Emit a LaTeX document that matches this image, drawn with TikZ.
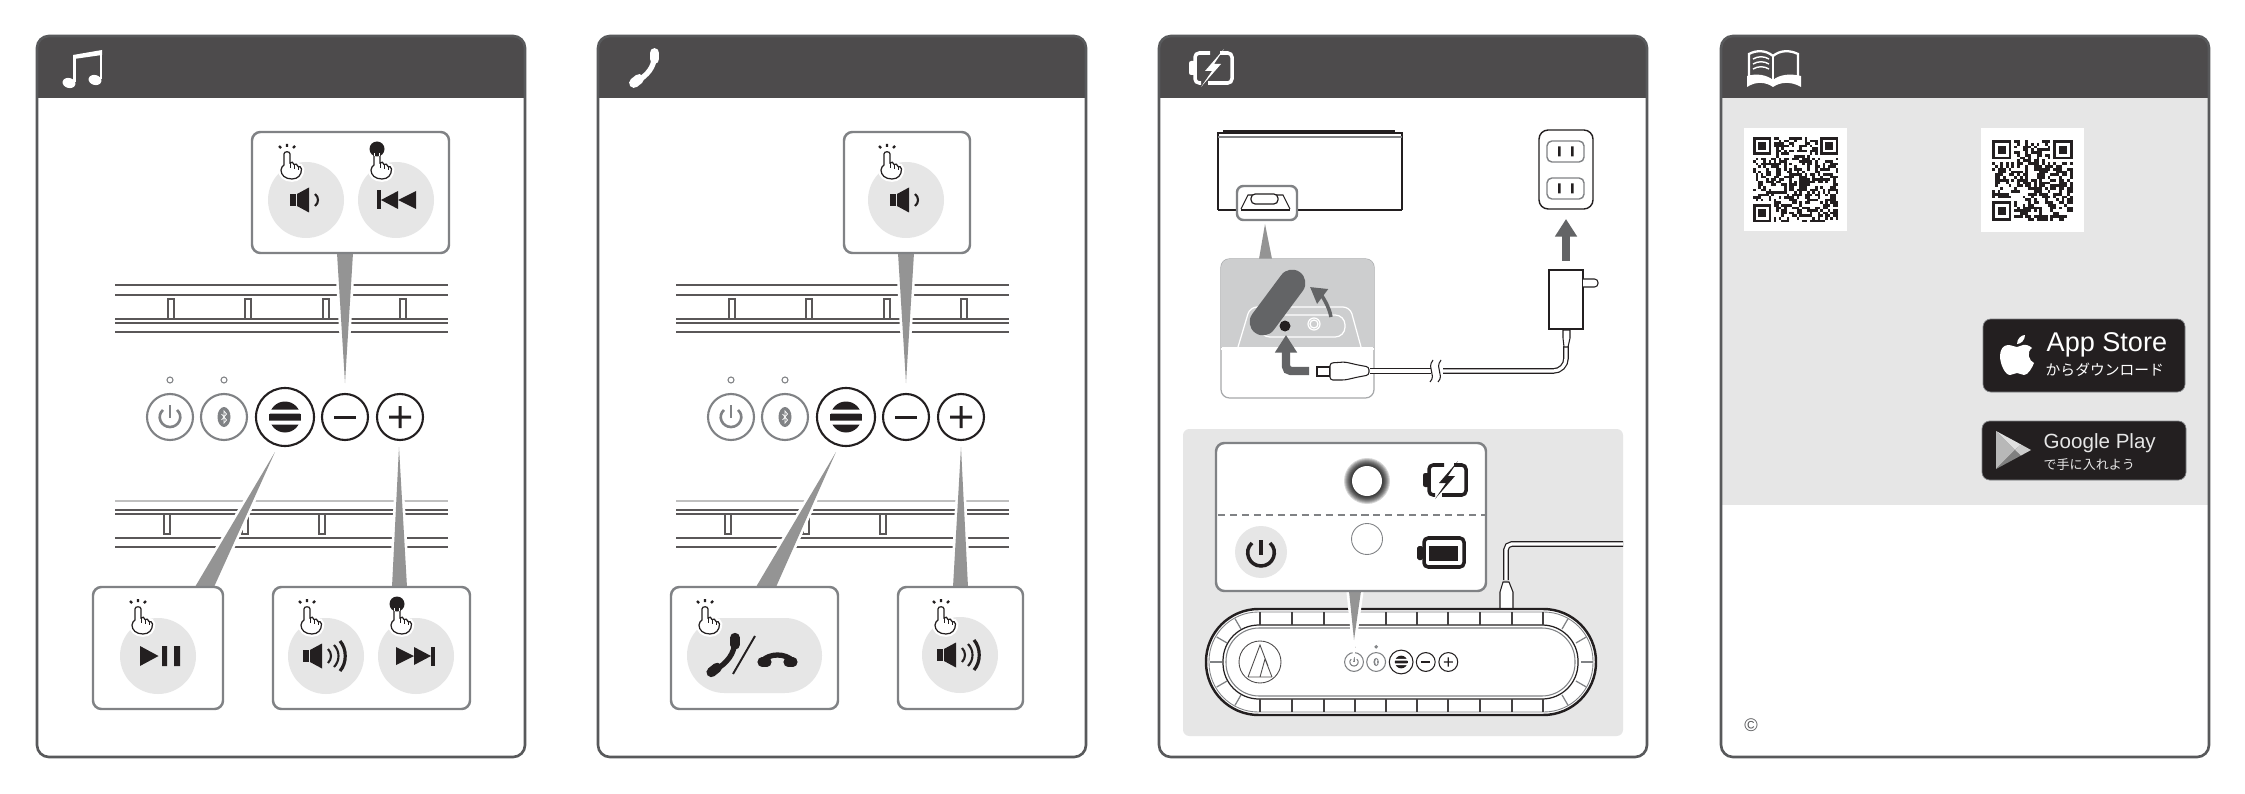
\documentclass[tikz,border=0pt]{standalone}
\usepackage{fontspec}
\setmainfont{Liberation Sans}
\newfontfamily\cjkfont{Noto Sans CJK JP}
\usetikzlibrary{arrows.meta}
\definecolor{headdark}{HTML}{4D4B4C}
\definecolor{framegray}{HTML}{58595B}
\definecolor{softgray}{HTML}{E6E6E6}
\definecolor{tailfill}{HTML}{949494}
\definecolor{boxline}{HTML}{808285}
\definecolor{iconink}{HTML}{231F20}
\definecolor{flapgray}{HTML}{636466}
\definecolor{portgray}{HTML}{CDCECF}
\tikzset{
  railline/.style={draw=iconink!75,line width=.3pt},
  btnline/.style={line width=.6pt},
  btnmark/.style={line width=.75pt},
  callbox/.style={draw=boxline,line width=.7pt,fill=white,rounded corners=2.4pt},
  calltail/.style={fill=tailfill,preaction={draw=white,line width=1.5pt}},
  softdisc/.style={fill=softgray},
  wirepair/.style={draw=iconink,line width=.35pt,double=white,double distance=.9pt},
  fatarrow/.style={draw=flapgray,line width=2.2pt,-{Triangle[width=6pt,length=5pt]}},
  badge/.style={fill=iconink,draw=boxline,line width=.2pt,rounded corners=2.2pt},
  pics/taphand/.style={code={
    \draw[iconink,line width=.65pt] (-8,-6)--(-6,-4) (0,-8)--(0,-5) (8,-6)--(6,-4);
    \draw[iconink,fill=white,line width=.35pt,preaction={draw=white,line width=1.6pt}]
      (-3,2) .. controls (-3,-1) and (3,-1) .. (3,2) -- (3,11) .. controls (4,9.5) and (7,10) .. (7,12.5)
      .. controls (8,11.5) and (11,12) .. (11,14.5) .. controls (12,14) and (14.5,15) .. (14.5,17)
      .. controls (14.5,23) and (11,27) .. (5,27) .. controls (-2,27) and (-6,23) .. (-6,18)
      .. controls (-6,15) and (-4,14) .. (-3,13) -- cycle;
    \draw[iconink,line width=.25pt] (3,11)--(3,16) (7,12.5)--(7,17) (11,14.5)--(11,18);
  }},
  pics/holdhand/.style={code={
    \draw[iconink,fill=white,line width=.35pt,preaction={draw=white,line width=1.6pt}]
      (-3,2) .. controls (-3,-1) and (3,-1) .. (3,2) -- (3,11) .. controls (4,9.5) and (7,10) .. (7,12.5)
      .. controls (8,11.5) and (11,12) .. (11,14.5) .. controls (12,14) and (14.5,15) .. (14.5,17)
      .. controls (14.5,23) and (11,27) .. (5,27) .. controls (-2,27) and (-6,23) .. (-6,18)
      .. controls (-6,15) and (-4,14) .. (-3,13) -- cycle;
    \draw[iconink,line width=.25pt] (3,11)--(3,16) (7,12.5)--(7,17) (11,14.5)--(11,18);
    \fill[iconink] (0,-3) circle (7.5);
    \draw[white,line width=.25pt] (-2.2,4) -- (-2.2,1) (2.2,4) -- (2.2,1);
  }},
  pics/speakerlow/.style={code={
    \fill[iconink] (-16,-6) rectangle (-10,6);
    \fill[iconink] (-9,-6) -- (3,-12.5) -- (3,12.5) -- (-9,6) -- cycle;
    \draw[iconink,line width=.6pt] (9,-6) .. controls (13,-3) and (13,3) .. (9,6);
  }},
  pics/speakerhigh/.style={code={
    \fill[iconink] (-23,-6) rectangle (-17,6);
    \fill[iconink] (-16,-6) -- (-4,-12.5) -- (-4,12.5) -- (-16,6) -- cycle;
    \draw[iconink,line width=.6pt] (2,-7) .. controls (6,-3) and (6,3) .. (2,7);
    \draw[iconink,line width=.6pt] (8,-11) .. controls (14,-5) and (14,5) .. (8,11);
    \draw[iconink,line width=.9pt] (14,-15) .. controls (21,-7) and (21,7) .. (14,15);
  }},
  pics/skiptrack/.style={code={
    \fill[iconink] (-19,-9.5) rectangle (-15,9.5);
    \fill[iconink] (-15,0) -- (2,-9) -- (2,9) -- cycle;
    \fill[iconink] (2,0) -- (20,-9) -- (20,9) -- cycle;
  }},
  pics/chargeicon/.style={code={
    \draw[#1,line width=1pt,rounded corners=1.2pt] (-1,-15) -- (-16,-15) -- (-16,15) -- (-10,15);
    \draw[#1,line width=1pt,rounded corners=1.2pt] (9,-15) -- (21,-15) -- (21,15) -- (-3,15);
    \fill[#1,rounded corners=.6pt] (-22,-7) rectangle (-15,7);
    \fill[#1] (13,-19) -- (-6,3) -- (1,3) -- (-10,19) -- (10,-4) -- (3,-4) -- cycle;
  }},
  pics/handset/.style={code={
    \draw[#1,line width=1.5pt] (9,-12) .. controls (10,-2) and (2,8) .. (-8,13);
    \draw[#1,line width=2.8pt,line cap=round] (9.5,-15) -- (9.5,-9);
    \draw[#1,line width=2.8pt,line cap=round] (-11,15) -- (-6,11);
  }},
  pics/btnrow/.style={code={
    \draw[boxline,fill=white,line width=.3pt] (0,-37) circle (3) (54,-37) circle (3);
    \draw[boxline,fill=white,btnline] (0,0) circle (23) (54,0) circle (23);
    \draw[iconink,fill=white,btnline] (115,0) circle (29) (175,0) circle (23) (230,0) circle (23);
    \draw[boxline,btnmark] (-7,-7) .. controls (-14,-1) and (-9,10) .. (0,10) .. controls (9,10) and (14,-1) .. (7,-7);
    \draw[boxline,btnmark] (0,-12) -- (0,1);
    \fill[boxline] (54,0) ellipse (6.5 and 10);
    \draw[white,line width=.2pt] (51.5,-3) -- (56.5,3) -- (54,6) -- (54,-6) -- (56.5,-3) -- (51.5,3);
    \fill[iconink] (115,0) circle (15.5);
    \fill[iconink] (99,-3.5) rectangle (131,3.5);
    \fill[white] (98,-7.5) rectangle (132,-3.5) (98,3.5) rectangle (132,7.5);
    \fill[iconink] (164,-1.5) rectangle (186,1.5);
    \fill[iconink] (219,-1.5) rectangle (241,1.5) (228.5,-11) rectangle (231.5,11);
  }},
}
\newcommand\qrcode[5]{% left, top, modules, cell, margin
  \fill[white] (#1-#5,#2-#5) rectangle ({#1+#3*#4+#5},{#2+#3*#4+#5});
  \pgfmathtruncatemacro\qrlast{#3-1}
  \foreach \i in {0,...,\qrlast}
    \foreach \j in {0,...,\qrlast} {
      \pgfmathtruncatemacro\qron{rnd>0.52 ? 1 : 0}
      \ifnum\qron=1 \fill[iconink] ({#1+\i*#4},{#2+\j*#4}) rectangle +(#4,#4); \fi
    }
  \foreach \qa/\qb in {0/0,1/0,0/1} {
    \pgfmathsetmacro\qx{#1+\qa*(#3-7)*#4}
    \pgfmathsetmacro\qy{#2+\qb*(#3-7)*#4}
    \fill[white] ({\qx-#4*\qa},{\qy-#4*\qb}) rectangle +(8*#4,8*#4);
    \fill[iconink] (\qx,\qy) rectangle +(7*#4,7*#4);
    \fill[white] ({\qx+#4},{\qy+#4}) rectangle +(5*#4,5*#4);
    \fill[iconink] ({\qx+2*#4},{\qy+2*#4}) rectangle +(3*#4,3*#4);
  }
}
\begin{document}
\begin{tikzpicture}[x=0.01cm,y=-0.01cm]
    \useasboundingbox (0,0) rectangle (2245,794);

    % four panels
    \foreach \dx in {0,561,1122,1684} {
      \begin{scope}[shift={(\dx,0)}]
        \fill[white,rounded corners=3.4pt] (37,36) rectangle (525,757);
        \begin{scope}
          \clip[rounded corners=3.4pt] (37,36) rectangle (525,757);
          \fill[headdark] (37,36) rectangle (525,98);
        \end{scope}
      \end{scope}
    }
    \fill[softgray] (1722,98) rectangle (2208,505);
    \foreach \dx in {0,561,1122,1684}
      \draw[framegray,line width=.75pt,rounded corners=3.4pt,shift={(\dx,0)}] (37,36) rectangle (525,757);

    % header icons
    \fill[white] (73,55) -- (102,50) -- (102,55) -- (74,59) -- cycle;
    \draw[white,line width=.7pt] (74.5,56) -- (74.5,82) (101,52) -- (101,79);
    \fill[white,rotate around={-15:(69,83)}] (69,83) ellipse (6.5 and 5);
    \fill[white,rotate around={-15:(95,80)}] (95,80) ellipse (6.5 and 5);
    \pic at (645,68) {handset={white}};
    \pic at (1211,68) {chargeicon={white}};
    \draw[white,line width=.65pt] (1773,56) .. controls (1766,50) and (1756,50) .. (1749,54) -- (1749,80);
    \draw[white,line width=.65pt] (1773,56) .. controls (1780,50) and (1790,50) .. (1798,54) -- (1798,80);
    \draw[white,line width=.65pt] (1773,56) -- (1773,80);
    \draw[white,line width=.4pt] (1753,59) .. controls (1758,56) and (1764,56) .. (1769,59);
    \draw[white,line width=.4pt] (1753,64) .. controls (1758,61) and (1764,61) .. (1769,64);
    \draw[white,line width=.4pt] (1753,69) .. controls (1758,66) and (1764,66) .. (1769,69);
    \fill[white] (1747,76) .. controls (1757,73) and (1767,75) .. (1773,80) .. controls (1779,75) and (1789,73) .. (1801,76)
       -- (1801,87) .. controls (1791,81) and (1780,82) .. (1773,87) .. controls (1766,82) and (1756,81) .. (1747,87) -- cycle;

    % rails in panels one and two
    \foreach \dx in {0,561} {
      \begin{scope}[shift={(\dx,0)}]
        \draw[railline,line width=.55pt] (115,285) -- (448,285);
        \foreach \ry in {295,319,323,332}
          \draw[railline] (115,\ry) -- (448,\ry);
        \foreach \tx in {171,248,326,403}
          \draw[railline,line width=.3pt] (\tx-3,319) -- (\tx-3,299) -- (\tx+3,299) -- (\tx+3,319);
        \draw[railline,draw=black!25,line width=.5pt] (115,501) -- (448,501);
        \foreach \ry in {510,514,538,547}
          \draw[railline] (115,\ry) -- (448,\ry);
        \foreach \tx in {167,245,322}
          \draw[railline,line width=.3pt] (\tx-3,514) -- (\tx-3,534) -- (\tx+3,534) -- (\tx+3,514);
      \end{scope}
    }

    % tails
    \path[calltail] (337,253) -- (345,383) -- (353,253) -- cycle;
    \path[calltail] (195,587) -- (275,452) -- (214,587) -- cycle;
    \path[calltail] (392,587) -- (399,447) -- (407,587) -- cycle;
    \path[calltail] (898,253) -- (906,383) -- (914,253) -- cycle;
    \path[calltail] (756,587) -- (836,452) -- (776,587) -- cycle;
    \path[calltail] (953,587) -- (961,447) -- (968,587) -- cycle;

    % button rows
    \pic at (170,417) {btnrow};
    \pic at (731,417) {btnrow};

    % callouts of panel one
    \draw[callbox] (252,132) rectangle (449,253);
    \fill[softdisc] (306,200) circle (38) (396,200) circle (38);
    \pic at (306,200) {speakerlow};
    \pic at (396,200) {skiptrack};
    \pic at (287,152) {taphand};
    \pic at (377,152) {holdhand};

    \draw[callbox] (93,587) rectangle (223,709);
    \fill[softdisc] (158,656) circle (38);
    \fill[iconink] (140,646) -- (158.5,656) -- (140,666) -- cycle;
    \fill[iconink] (162,646) rectangle (167,666) (174,646) rectangle (180,666);
    \pic at (138,607) {taphand};

    \draw[callbox] (273,587) rectangle (470,709);
    \fill[softdisc] (326,656) circle (38) (416,656) circle (38);
    \pic at (326,656) {speakerhigh};
    \pic[xscale=-1] at (416,656) {skiptrack};
    \pic at (307,607) {taphand};
    \pic at (397,607) {holdhand};

    % callouts of panel two
    \draw[callbox] (844,132) rectangle (970,253);
    \fill[softdisc] (906,200) circle (38);
    \pic at (906,200) {speakerlow};
    \pic at (887,152) {taphand};

    \draw[callbox] (671,587) rectangle (838,709);
    \fill[softdisc,rounded corners=10.6pt] (687,618) rectangle (822,693);
    \pic[scale=1.15] at (724,655) {handset={iconink}};
    \draw[iconink,line width=.55pt] (755,636) -- (733,674);
    \draw[iconink,line width=1.5pt] (762,661) .. controls (770,653) and (785,653) .. (793,661);
    \draw[iconink,line width=2.6pt,line cap=round] (762,662) -- (767,662);
    \draw[iconink,line width=2.6pt,line cap=round] (788,662) -- (793,662);
    \pic at (705,607) {taphand};

    \draw[callbox] (898,587) rectangle (1023,709);
    \fill[softdisc] (960,655) circle (38);
    \pic at (960,655) {speakerhigh};
    \pic at (941,607) {taphand};

    % panel three, upper part
    \draw[iconink,line width=.3pt] (1218,210) -- (1218,133) -- (1402,133) -- (1402,210);
    \draw[iconink,line width=1pt] (1223,132) -- (1395,132);
    \draw[boxline,line width=.5pt] (1218,137) -- (1402,137);
    \draw[iconink,line width=.6pt] (1218,210) -- (1402,210);
    \path[calltail] (1259,259) -- (1265,224) -- (1272,259) -- cycle;
    \draw[boxline,fill=white,line width=.7pt,rounded corners=1.8pt] (1237,186) rectangle (1297,220);
    \draw[iconink,line width=.3pt] (1241,209) -- (1248,195) -- (1283,195) -- (1290,209);
    \draw[iconink,fill=white,line width=.35pt,rounded corners=1.2pt] (1251,194) rectangle (1278,204);
    \draw[iconink,line width=.6pt] (1241,210) -- (1290,210);

    \draw[boxline!70,fill=white,line width=.35pt,rounded corners=2.4pt] (1221,259) rectangle (1374,398);
    \begin{scope}
      \clip[rounded corners=2.4pt] (1221,259) rectangle (1374,398);
      \fill[portgray] (1221,259) rectangle (1374,347);
      \draw[white,line width=.35pt] (1221,349) -- (1374,349);
    \end{scope}
    \draw[white,line width=.35pt,rounded corners=2pt] (1238,347) -- (1250,307) -- (1350,307) -- (1361,347);
    \draw[white,line width=.35pt,rounded corners=2.8pt] (1260,315) rectangle (1345,337);
    \draw[white,line width=.35pt] (1314,324) circle (6) (1314,324) circle (4);
    \draw[flapgray,line width=7.6pt,line cap=round] (1263,322) -- (1292,283);
    \fill[iconink] (1285,326) circle (5.5);
    \coordinate (flapfoot) at (1331,317);
    \coordinate (flaphead) at (1310,287);
    \draw[flapgray,line width=1pt,-{Triangle[width=5pt,length=4.5pt]}] (flapfoot) .. controls (1329,306) and (1322,296) .. (flaphead);
    \coordinate (elbowfoot) at (1309,371);
    \coordinate (elbowhead) at (1286,335);
    \draw[fatarrow,rounded corners=1.4pt,line width=2.4pt] (elbowfoot) -- (1286,371) -- (elbowhead);

    % plug, cable, adapter
    \draw[wirepair,rounded corners=3.4pt] (1370,371) -- (1431,371);
    \draw[wirepair,rounded corners=3.6pt] (1443,371) -- (1566,371) -- (1566,346);
    \draw[iconink,line width=.3pt,fill=white] (1317,367) rectangle (1330,376);
    \draw[iconink,line width=.3pt,fill=white,rounded corners=.8pt] (1330,363) -- (1345,362) -- (1358,365) -- (1369,367) -- (1369,375) -- (1358,377) -- (1345,380) -- (1330,380) -- cycle;
    \draw[iconink,line width=.3pt] (1433,360) .. controls (1426,369) and (1437,374) .. (1430,382);
    \draw[iconink,line width=.3pt] (1441,360) .. controls (1434,369) and (1445,374) .. (1438,382);
    \draw[iconink,line width=.3pt,fill=white] (1563,330) -- (1563,338) -- (1564,347) -- (1568,347) -- (1570,338) -- (1570,330) -- cycle;
    \draw[iconink,line width=.35pt,fill=white] (1549,270) rectangle (1583,329);
    \draw[iconink,line width=.3pt,fill=white,rounded corners=1pt] (1583,279) -- (1598,279) -- (1598,287) -- (1583,287);
    \coordinate (adaptertop) at (1566,261);
    \coordinate (outletfoot) at (1566,219);
    \draw[fatarrow] (adaptertop) -- (outletfoot);
    \draw[iconink,fill=white,line width=.4pt,rounded corners=2.6pt] (1539,130) rectangle (1593,209);
    \foreach \sy in {151.5,188.5} {
      \draw[boxline,line width=.4pt,rounded corners=1.4pt] (1547,\sy-10.5) rectangle (1584,\sy+10.5);
      \fill[iconink] (1558,\sy-5) rectangle (1560.5,\sy+5) (1571,\sy-5) rectangle (1573.5,\sy+5);
    }

    % panel three, lower part
    \fill[softgray,rounded corners=1.8pt] (1183,429) rectangle (1623,736);
    \draw[wirepair,rounded corners=1.6pt] (1506,580) -- (1506,544) -- (1623,544);
    \draw[iconink,line width=.3pt,fill=white] (1500,608) -- (1500,592) -- (1503,582) -- (1509,582) -- (1513,592) -- (1513,608);

    \draw[iconink,fill=white,line width=.7pt,rounded corners=15pt] (1206,609) rectangle (1596,715);
    \draw[boxline,line width=.25pt,rounded corners=14pt] (1209,612) rectangle (1593,712);
    \draw[boxline,line width=.3pt,rounded corners=9.4pt] (1226,628) rectangle (1575,696);
    \draw[iconink,line width=.35pt,rounded corners=10.2pt] (1223,625) rectangle (1578,699);
    \foreach \tx in {1260,1292,1324,1355,1386,1417,1448,1480,1512,1543} {
      \draw[iconink!85,line width=.5pt] (\tx,612) -- (\tx,625);
      \draw[iconink!85,line width=.5pt] (\tx,699) -- (\tx,712);
    }
    \foreach \ang in {150,180,210,120,240}
      \draw[boxline,line width=.35pt] ({1260+38*cos(\ang)},{662+38*sin(\ang)}) -- ({1260+50*cos(\ang)},{662+50*sin(\ang)});
    \foreach \ang in {-60,-30,0,30,60}
      \draw[boxline,line width=.35pt] ({1543+38*cos(\ang)},{662+38*sin(\ang)}) -- ({1543+50*cos(\ang)},{662+50*sin(\ang)});
    \draw[iconink!80,line width=.25pt] (1260,662) circle (21);
    \draw[iconink!80,line width=.25pt] (1248,677) -- (1260,645) -- (1268,666) (1260,677) -- (1265,659) -- (1272,677) (1248,677) -- (1272,677);
    \begin{scope}[btnline/.style={line width=.3pt},btnmark/.style={line width=.3pt}]
      \pic[scale=.41] at (1354,662) {btnrow};
    \end{scope}
    \fill[iconink] (1354,647) circle (1.6);

    \path[calltail] (1349,591) -- (1354,640) -- (1361,591) -- cycle;
    \draw[callbox] (1216,443) rectangle (1486,591);
    \draw[boxline,line width=.55pt,dashed,dash pattern=on 2pt off 1.4pt] (1218,515) -- (1485,515);
    \foreach \gr in {23,22,...,16}
      \fill[black,opacity=.16] (1367,481) circle (\gr);
    \fill[white] (1367,481) circle (15);
    \draw[boxline,fill=white,line width=.25pt] (1367,539) circle (15.5);
    \pic at (1445,480) {chargeicon={iconink}};
    \draw[iconink,line width=1pt,rounded corners=1.2pt] (1424,538) rectangle (1464,567);
    \fill[iconink,rounded corners=.5pt] (1417,546) rectangle (1423,560);
    \fill[iconink] (1429,546) rectangle (1458,561);
    \fill[softdisc] (1261,552) circle (26);
    \draw[iconink,line width=1pt] (1252,543) .. controls (1243,551) and (1249,566) .. (1261,566) .. controls (1273,566) and (1279,551) .. (1270,543);
    \draw[iconink,line width=1pt] (1261,540) -- (1261,555);

    % panel four
    \pgfmathsetseed{41}
    \qrcode{1753}{137}{33}{2.58}{9}
    \qrcode{1992}{140}{29}{2.78}{11.5}

    \path[badge] (1983,319) rectangle (2185,392);
    \begin{scope}[shift={(2017,355)}]
      \fill[white] (0,-8) .. controls (-3,-8) and (-5,-10) .. (-9,-10) .. controls (-14,-10) and (-17,-5) .. (-17,1)
        .. controls (-17,9) and (-12,20) .. (-7,20) .. controls (-4,20) and (-3,18) .. (0,18)
        .. controls (3,18) and (4,20) .. (7,20) .. controls (11,20) and (15,13) .. (17,8)
        .. controls (12,6) and (9,-3) .. (15,-7) .. controls (12,-10) and (8,-10.5) .. (6,-10)
        .. controls (4,-10) and (2,-8) .. (0,-8) -- cycle;
      \fill[white] (0,-11) .. controls (0,-16) and (4,-20) .. (8,-20) .. controls (8,-15) and (4,-11) .. (0,-11) -- cycle;
    \end{scope}
    \node[anchor=west,inner sep=0pt,text=white,font=\fontsize{7.7}{8}\selectfont] (appname) at (2046,345) {App Store};
    \node[anchor=west,inner sep=0pt,text=white,font=\cjkfont\fontsize{4.2}{5}\selectfont] (appsub) at (2045,370) {からダウンロード};

    \path[badge] (1982,421) rectangle (2186,480);
    \fill[black!28] (1996,431) -- (1996,469) -- (2015,450) -- cycle;
    \fill[black!12] (1996,431) -- (2021,444.5) -- (2015,450) -- cycle;
    \fill[black!50] (1996,469) -- (2021,455.5) -- (2015,450) -- cycle;
    \fill[black!20] (2021,444.5) -- (2031,450) -- (2021,455.5) -- (2015,450) -- cycle;
    \node[anchor=west,inner sep=0pt,text=softgray,font=\fontsize{5.85}{7}\selectfont] (playname) at (2043,443) {Google Play};
    \node[anchor=west,inner sep=0pt,text=softgray,font=\cjkfont\fontsize{3.7}{5}\selectfont] (playsub) at (2043,465) {で手に入れよう};

    \node[inner sep=0pt,text=framegray,font=\fontsize{5.2}{6}\selectfont] (copyline) at (1751,725) {©};
\end{tikzpicture}
\end{document}
